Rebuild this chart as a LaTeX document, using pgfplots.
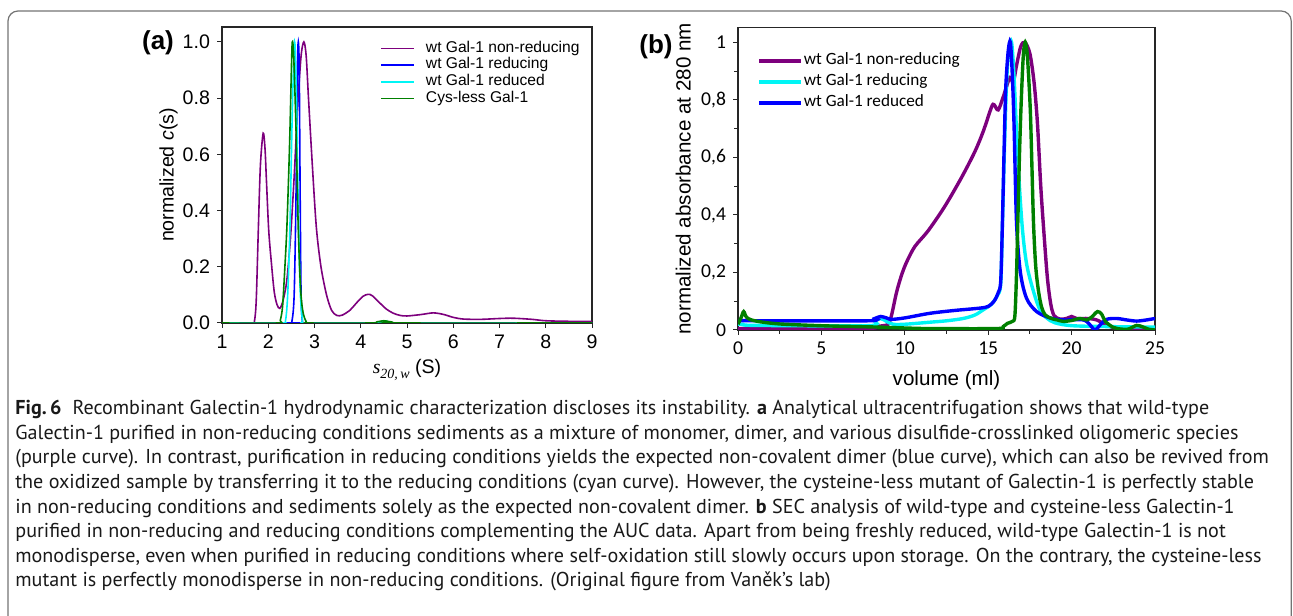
\documentclass[border=0pt]{standalone}
\usepackage{pgfplots}
\pgfplotsset{compat=1.18}
\usepackage{fontspec}
\setmainfont{Liberation Sans}
\newfontfamily\ptsans{PT Sans}
\newfontfamily\carlito{Carlito}
\newfontfamily\lserif{Liberation Serif}

\definecolor{cpurple}{RGB}{125,0,125}
\definecolor{cblue}{RGB}{0,0,255}
\definecolor{ccyan}{RGB}{0,245,245}
\definecolor{cgreen}{RGB}{0,128,0}

\pgfplotsset{
  panel/.style={
    scale only axis,
    anchor=south west,
    axis line style={black!85, line width=0.6pt},
    tick align=outside,
    tick pos=left,
    major tick length=2.5pt,
    minor tick length=2pt,
    every tick/.style={black!85, line width=0.5pt},
    /pgf/number format/assume math mode=true,
    clip mode=individual,
  },
}

\begin{document}
\begin{tikzpicture}
\useasboundingbox (0,0) rectangle (646.5pt,307.5pt);
% frame of the figure box
\draw[black!55, line width=0.6pt, rounded corners=5pt]
  (4pt,-10pt) -- (4pt,302pt) -- (645.6pt,302pt) -- (645.6pt,-10pt);

% ---------------- panel (a): AUC ----------------
\begin{axis}[panel,
  at={(111pt,146pt)}, width=185pt, height=148pt,
  xmin=1, xmax=9, ymin=0, ymax=1.053,
  xtick={1,2,3,4,5,6,7,8,9},
  ytick={0,0.2,0.4,0.6,0.8,1.0},
  yticklabel style={/pgf/number format/.cd, fixed, fixed zerofill, precision=1},
  tick label style={font=\fontsize{9.8}{11}\selectfont},
  label style={font=\fontsize{9.8}{11}\selectfont},
  xlabel={{\lserif\itshape s}\raisebox{-0.45ex}{\lserif\itshape\fontsize{7}{8}\selectfont 20,\,w} (S)},
  ylabel={normalized \textit{c}(s)},
  xlabel style={at={(axis description cs:0.5,-0.1588)}, anchor=center},
  ylabel style={at={(axis description cs:-0.1446,0.5)}, anchor=center},
  legend style={at={(axis description cs:0.427,0.957)}, anchor=north west,
    draw=none, fill=none, inner sep=0pt, row sep=0pt,
    font=\fontsize{7.8}{9}\selectfont,
    nodes={inner sep=0pt, text height=6pt, text depth=2.35pt}},
  legend cell align=left,
  legend image code/.code={\draw[#1] (0pt,0pt) -- (16.5pt,0pt); \path (22pt,0pt);},
  every axis plot/.append style={line width=0.8pt, smooth, tension=0.5},
]
\addplot[cpurple] coordinates {
(1.0,0)(1.65,0)(1.70,0.005)(1.74,0.08)(1.785,0.33)(1.83,0.56)(1.89,0.675)
(1.93,0.62)(1.96,0.51)(2.01,0.33)(2.07,0.21)(2.13,0.11)(2.19,0.065)(2.25,0.052)
(2.32,0.08)(2.40,0.15)(2.48,0.30)(2.56,0.52)(2.64,0.78)(2.71,0.95)(2.77,1.0)
(2.82,0.95)(2.87,0.80)(2.95,0.57)(3.04,0.34)(3.14,0.20)(3.26,0.10)(3.37,0.045)
(3.48,0.027)(3.60,0.028)(3.77,0.046)(3.90,0.07)(4.05,0.095)(4.16,0.102)(4.25,0.097)
(4.42,0.07)(4.55,0.05)(4.70,0.035)(4.85,0.027)(5.0,0.025)(5.3,0.030)(5.57,0.036)
(5.8,0.030)(6.0,0.020)(6.22,0.014)(6.6,0.013)(7.0,0.016)(7.3,0.017)(7.7,0.013)
(8.0,0.008)(8.5,0.006)(9.0,0.006)
};
\addlegendentry{wt Gal-1 non-reducing}
\addplot[cblue] coordinates {
(1.0,0)(2.45,0)(2.51,0.005)(2.56,0.10)(2.60,0.45)(2.63,0.90)(2.65,1.0)
(2.67,0.90)(2.69,0.45)(2.71,0.10)(2.74,0.005)(2.80,0)(9.0,0)
};
\addlegendentry{wt Gal-1 reducing}
\addplot[ccyan] coordinates {
(1.0,0)(2.30,0)(2.37,0.005)(2.42,0.10)(2.47,0.35)(2.52,0.75)(2.57,1.0)
(2.61,0.80)(2.65,0.40)(2.69,0.12)(2.74,0.01)(2.80,0)(4.3,0)(4.5,0.004)(4.7,0)(9.0,0)
};
\addlegendentry{wt Gal-1 reduced}
\addplot[cgreen] coordinates {
(1.0,0)(2.20,0)(2.26,0.01)(2.31,0.06)(2.36,0.20)(2.40,0.33)(2.44,0.52)(2.47,0.69)
(2.50,0.90)(2.52,1.0)(2.55,0.95)(2.60,0.69)(2.65,0.33)(2.70,0.12)(2.75,0.04)
(2.82,0.005)(2.90,0)(4.20,0)(4.35,0.004)(4.50,0.008)(4.65,0.004)(4.80,0)(9.0,0)
};
\addlegendentry{Cys-less Gal-1}
\end{axis}

% ---------------- panel (b): SEC ----------------
\begin{axis}[panel,
  at={(369pt,142.5pt)}, width=208.5pt, height=151.2pt,
  xmin=0, xmax=25, ymin=0, ymax=1.051,
  xtick={0,5,10,15,20,25}, minor x tick num=1,
  ytick={0,0.2,0.4,0.6,0.8,1}, minor y tick num=1,
  yticklabel style={/pgf/number format/.cd, use comma},
  tick label style={font=\carlito\fontsize{9.8}{11}\selectfont},
  label style={font=\fontsize{10.3}{12}\selectfont},
  xlabel={volume (ml)},
  ylabel={normalized absorbance at 280 nm},
  xlabel style={at={(axis description cs:0.5,-0.1653)}, anchor=center},
  ylabel style={at={(axis description cs:-0.1312,0.5)}, anchor=center},
  legend style={at={(axis description cs:0.0456,0.926)}, anchor=north west,
    draw=none, fill=none, inner sep=0pt, row sep=0pt,
    font=\carlito\fontsize{8.6}{10}\selectfont,
    nodes={inner sep=0pt, text height=7pt, text depth=3.5pt}},
  legend cell align=left,
  legend image code/.code={\draw[#1] (0pt,0pt) -- (21pt,0pt); \path (21.5pt,0pt);},
  every axis plot/.append style={line width=1.7pt, smooth, tension=0.5},
]
\addplot[cpurple] coordinates {
(0,0.005)(7.5,0.005)(8.3,0.012)(8.7,0.015)(9.0,0.02)(9.2,0.05)(9.5,0.13)(9.8,0.19)
(10.1,0.235)(10.6,0.29)(11.4,0.345)(12.4,0.43)(13.4,0.53)(14.2,0.62)(14.7,0.69)
(15.2,0.775)(15.35,0.783)(15.6,0.765)(15.9,0.81)(16.3,0.878)(16.5,0.86)(16.7,0.92)
(16.95,0.985)(17.2,1.0)(17.5,0.96)(17.75,0.86)(17.95,0.72)(18.15,0.50)(18.35,0.33)
(18.55,0.18)(18.75,0.09)(18.95,0.05)(19.3,0.038)(19.7,0.04)(20.0,0.047)(20.3,0.04)
(21.0,0.04)(21.5,0.035)(22.0,0.02)(22.5,0.008)(23.0,0.005)(25,0.005)
};
\addlegendentry{wt Gal-1 non-reducing}
\addplot[ccyan] coordinates {
(0,0.02)(0.3,0.02)(1,0.016)(7.8,0.015)(8.2,0.03)(8.55,0.04)(8.9,0.03)(9.3,0.02)
(10,0.02)(11.5,0.027)(12.5,0.032)(13.5,0.04)(14.2,0.052)(14.7,0.07)(15.2,0.09)
(15.55,0.12)(15.75,0.16)(15.85,0.36)(15.97,0.62)(16.1,0.86)(16.25,0.98)(16.4,1.0)
(16.55,0.88)(16.77,0.60)(17.03,0.365)(17.3,0.23)(17.72,0.133)(18.1,0.07)(18.5,0.042)
(19.0,0.025)(20,0.015)(22,0.012)(25,0.01)
};
\addlegendentry{wt Gal-1 reducing}
\addplot[cblue] coordinates {
(0,0.03)(0.3,0.033)(1,0.032)(7.8,0.032)(8.2,0.04)(8.55,0.047)(8.9,0.042)(9.2,0.037)
(10,0.042)(11.5,0.058)(13,0.068)(14.5,0.076)(15.0,0.082)(15.35,0.10)(15.6,0.13)
(15.75,0.17)(15.85,0.37)(15.95,0.62)(16.05,0.84)(16.2,0.97)(16.33,1.0)(16.45,0.88)
(16.55,0.71)(16.7,0.37)(16.93,0.20)(17.3,0.11)(17.9,0.064)(18.7,0.042)(19.5,0.035)
(20.7,0.035)(21.1,0.018)(21.4,0.0)(21.7,0.017)(22.1,0.037)(22.7,0.04)(23.3,0.035)
(23.9,0.031)(24.5,0.035)(25,0.04)
};
\addlegendentry{wt Gal-1 reduced}
\addplot[cgreen, forget plot] coordinates {
(0,0.02)(0.2,0.045)(0.34,0.064)(0.5,0.045)(0.8,0.035)(1.5,0.027)(2.5,0.021)(4,0.017)
(5.5,0.014)(7,0.012)(8.5,0.01)(10,0.007)(11.5,0.005)(15.5,0.005)(15.9,0.012)
(16.15,0.023)(16.45,0.03)(16.6,0.05)(16.7,0.20)(16.77,0.365)(16.87,0.60)(16.97,0.78)
(17.1,0.95)(17.22,1.0)(17.35,0.95)(17.52,0.77)(17.62,0.57)(17.72,0.365)(17.85,0.22)
(18.02,0.133)(18.2,0.08)(18.42,0.052)(18.8,0.04)(19.13,0.035)(19.5,0.03)(20.0,0.033)
(20.5,0.04)(20.9,0.035)(21.2,0.045)(21.55,0.064)(21.8,0.055)(22.02,0.03)(22.5,0.009)
(23,0.003)(23.4,0.003)(23.9,0.016)(24.3,0.01)(24.6,0.003)(25,0.0)
};
\end{axis}

% panel letters
\node[font=\bfseries\fontsize{13}{15}\selectfont] at (79pt,286pt) {(a)};
\node[font=\bfseries\fontsize{13}{15}\selectfont] at (328pt,284pt) {(b)};

% caption
\begin{scope}[every node/.style={anchor=base west, inner sep=0pt, text=black!90,
    font=\ptsans\fontsize{10.05}{12}\selectfont}]
\node at (7.5pt,100pt) {\textbf{Fig.\,6}\hspace{0.55em}Recombinant Galectin-1 hydrodynamic characterization discloses its instability. \textbf{a} Analytical ultracentrifugation shows that wild-type};
\node at (7.5pt,87.75pt) {Galectin-1 purified in non-reducing conditions sediments as a mixture of monomer, dimer, and various disulfide-crosslinked oligomeric species};
\node at (7.5pt,75.5pt) {(purple curve). In contrast, purification in reducing conditions yields the expected non-covalent dimer (blue curve), which can also be revived from};
\node at (7.5pt,63.25pt) {the oxidized sample by transferring it to the reducing conditions (cyan curve). However, the cysteine-less mutant of Galectin-1 is perfectly stable};
\node at (7.5pt,51pt) {in non-reducing conditions and sediments solely as the expected non-covalent dimer. \textbf{b} SEC analysis of wild-type and cysteine-less Galectin-1};
\node at (7.5pt,38.75pt) {purified in non-reducing and reducing conditions complementing the AUC data. Apart from being freshly reduced, wild-type Galectin-1 is not};
\node at (7.5pt,26.5pt) {monodisperse, even when purified in reducing conditions where self-oxidation still slowly occurs upon storage. On the contrary, the cysteine-less};
\node at (7.5pt,14.25pt) {mutant is perfectly monodisperse in non-reducing conditions. (Original figure from Vaněk’s lab)};
\end{scope}
\end{tikzpicture}
\end{document}
